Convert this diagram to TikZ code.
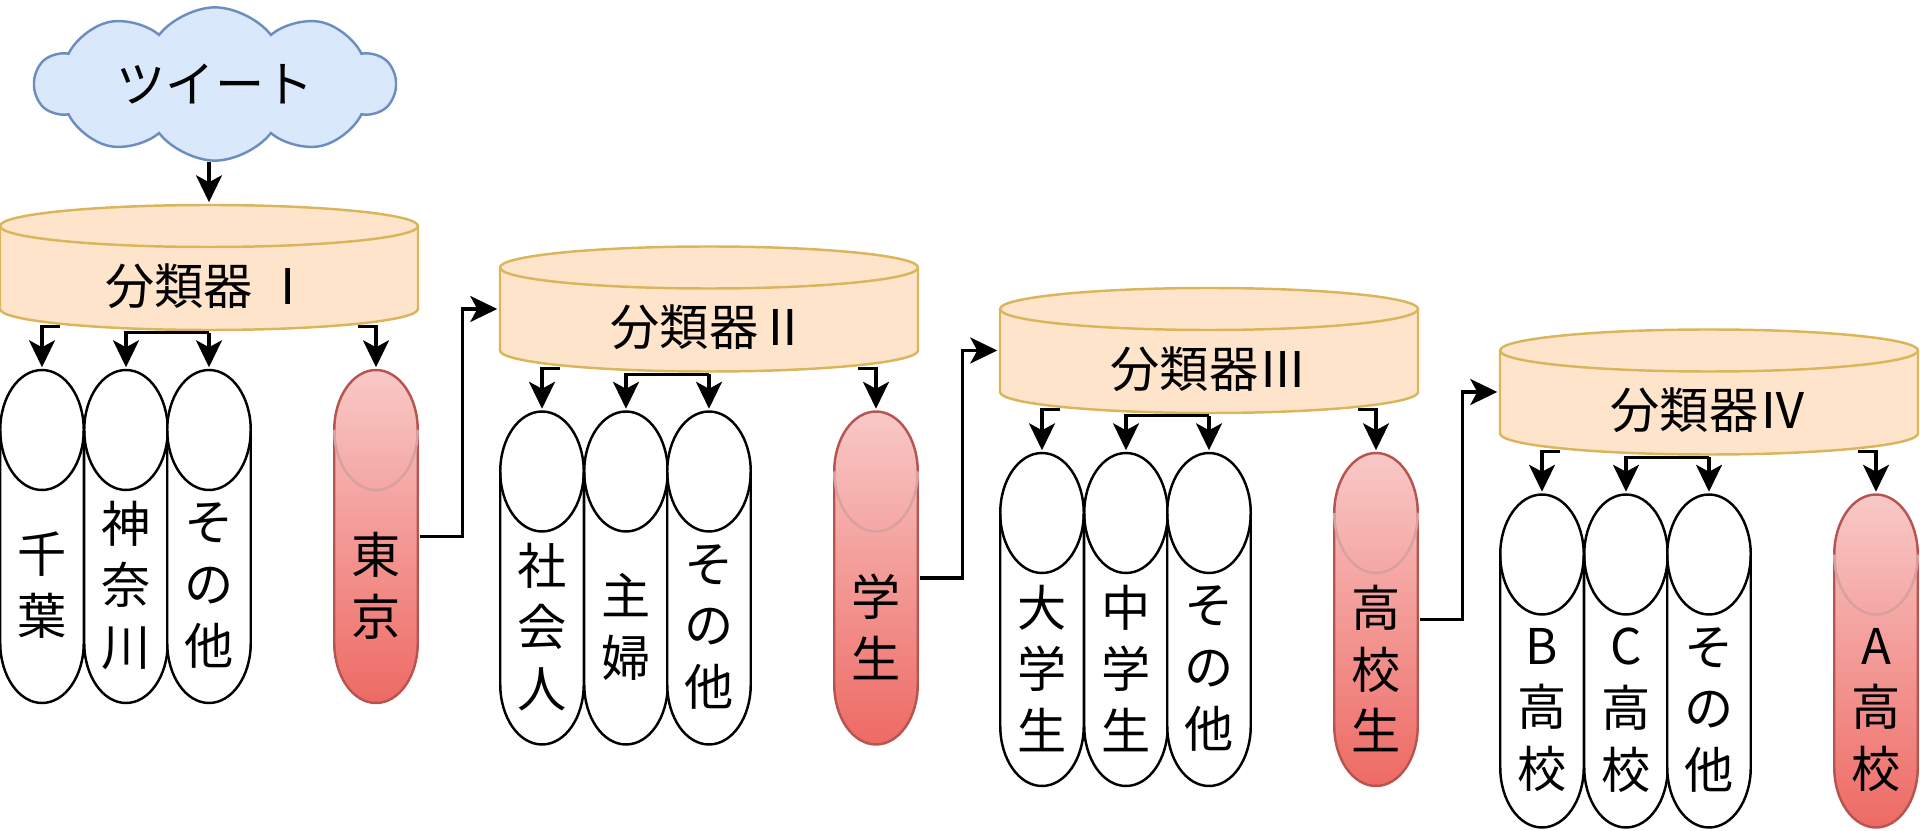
\documentclass[tikz,border=0pt]{standalone}
\usepackage{fontspec}
\setmainfont{Noto Sans CJK JP}
\usetikzlibrary{shapes.symbols,arrows.meta}
\definecolor{clsfill}{HTML}{FFE4CC}
\definecolor{clsline}{HTML}{D9B55B}
\definecolor{tweetfill}{HTML}{DAE8FC}
\definecolor{tweetline}{HTML}{6C8EBF}
\definecolor{hittop}{HTML}{F8C9C7}
\definecolor{hitbot}{HTML}{EE6A64}
\definecolor{hitline}{HTML}{B85450}
% drum outline and the front edge of its lid: half width, half height, lid radius
\newcommand\drum[3]{(-#1,#2-#3) arc[start angle=180,end angle=0,x radius=#1,y radius=#3]
  -- (#1,#3-#2) arc[start angle=0,end angle=-180,x radius=#1,y radius=#3] -- cycle}
\newcommand\drumlid[3]{(-#1,#2-#3) arc[start angle=180,end angle=360,x radius=#1,y radius=#3]}
\tikzset{
      jp/.style         = { font=\fontsize{14pt}{17.6pt}\selectfont },
      tweet/.style      = { cloud, cloud puffs=10, cloud puff arc=105, aspect=2.8, draw=tweetline, fill=tweetfill,
                            minimum width=36mm, minimum height=12mm, jp },
      classifier/.style = { rectangle, minimum width=42.1mm, minimum height=12.8mm, inner sep=0pt,
                            path picture={\begin{scope}[shift={(path picture bounding box.center)}]
                              \filldraw[draw=clsline, fill=clsfill] \drum{20.9mm}{6.25mm}{2.1mm};
                              \draw[clsline] \drumlid{20.9mm}{6.25mm}{2.1mm};
                            \end{scope}} },
      bin/.style        = { rectangle, minimum width=8.65mm, minimum height=33.6mm, inner sep=0pt,
                            path picture={\begin{scope}[shift={(path picture bounding box.center)}]
                              \filldraw[fill=white] \drum{4.175mm}{16.65mm}{6mm};
                              \draw \drumlid{4.175mm}{16.65mm}{6mm};
                            \end{scope}} },
      hit/.style        = { rectangle, minimum width=8.65mm, minimum height=33.6mm, inner sep=0pt,
                            path picture={\begin{scope}[shift={(path picture bounding box.center)}]
                              \shade[top color=hittop, bottom color=hitbot] \drum{4.175mm}{16.65mm}{6mm};
                              \draw[hitline] \drum{4.175mm}{16.65mm}{6mm};
                              \draw[hitline!55] \drumlid{4.175mm}{16.65mm}{6mm};
                            \end{scope}} },
      clstext/.style    = { jp, yshift=-1.85mm },
      bintext/.style    = { jp, align=center, yshift=-4.9mm },
      link/.style       = { -{Stealth[length=2.7mm,width=2.6mm,inset=0.7mm]}, line width=0.9pt }
    }

\begin{document}
\begin{tikzpicture}[x=0.1mm, y=-0.1mm, line width=0.7pt]
      \useasboundingbox (0,0) rectangle (1920,831);

      % Tweets in
      \node[tweet] (tweet) at (215,84) {ツイート};

      % Draw the four stages
      \foreach \g/\title/\ta/\tb/\tc/\td
        [evaluate=\g as \px using 500*(\g-1), evaluate=\g as \py using 205+41.5*(\g-1)]
        in {1/{分類器 Ⅰ}/{千\\葉}/{神\\奈\\川}/{そ\\の\\他}/{東\\京},
            2/{分類器Ⅱ}/{社\\会\\人}/{主\\婦}/{そ\\の\\他}/{学\\生},
            3/{分類器Ⅲ}/{大\\学\\生}/{中\\学\\生}/{そ\\の\\他}/{高\\校\\生},
            4/{分類器Ⅳ}/{B\\高\\校}/{C\\高\\校}/{そ\\の\\他}/{A\\高\\校}} {
        \node[classifier, label={[clstext]center:\title}] (cls\g) at (\px+209,\py+62.5) {};
        \node[bin, label={[bintext]center:\ta}] (ca\g) at (\px+42,\py+331.5) {};
        \node[bin, label={[bintext]center:\tb}] (cb\g) at (\px+126,\py+331.5) {};
        \node[bin, label={[bintext]center:\tc}] (cc\g) at (\px+209,\py+331.5) {};
        \node[hit, label={[bintext]center:\td}] (hit\g) at (\px+376,\py+331.5) {};

        \draw[link] ([xshift=-14.9mm,yshift=0.6mm]cls\g.south) -| (ca\g.north);
        \draw[link] (cls\g.south) -| (cb\g.north);
        \draw[link] (cls\g.south) -- (cc\g.north);
        \draw[link] ([xshift=14.9mm,yshift=0.6mm]cls\g.south) -| (hit\g.north);
      }

      \draw[link] (tweet.south -| cls1.north) -- (cls1.north);

      % Hand on to the next stage
      \foreach \g [evaluate=\g as \n using int(\g+1)] in {1,2,3} {
        \draw[link] (hit\g.east) -- ++(42,0) |- (cls\n.west);
      }
\end{tikzpicture}
\end{document}
